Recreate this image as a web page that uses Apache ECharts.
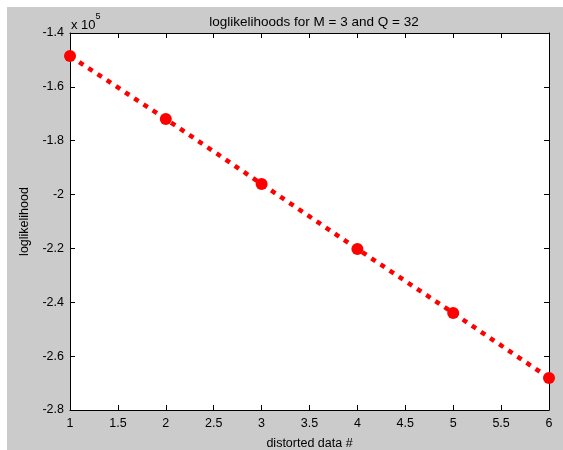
<!DOCTYPE html>
<html lang="en">
<head>
    <meta charset="UTF-8">
    <title>loglikelihoods</title>
    <script src="https://cdn.jsdelivr.net/npm/echarts@6/dist/echarts.min.js"></script>
    <style>
        html, body {margin: 0; padding: 0; background: #ffffff;}
        #frame {position: absolute; left: 7px; top: 7px; width: 556px; height: 443px; background: #cbcbcb;}
        #chart {position: absolute; left: 0; top: 0; width: 563px; height: 450px;}
    </style>
</head>
<body>
<div id="frame"></div>
<div id="chart"></div>
<script>
    // distorted data # vs loglikelihood
    let dataIdx   = [1, 2, 3, 4, 5, 6];
    let logLik    = [-148540, -171930, -196070, -220200, -243970, -268110];
    let titleText = 'loglikelihoods for M = 3 and Q = 32';

    let chart = echarts.init(document.getElementById('chart'));
    let font  = 'Liberation Sans, Arial, sans-serif';

    let fmtY = function (v) {
        return String(parseFloat((v / 1e5).toFixed(1)));
    };

    let option = {
        animation: false,
        title    : [
            {
                text     : titleText,
                left     : 309,
                top      : 10,
                textAlign: 'center',
                textStyle: {fontFamily: font, fontSize: 13.5, fontWeight: 'normal', color: '#000'}
            },
            {
                text     : '{a|x 10}{b|5}',
                left     : 66,
                top      : 7,
                textStyle: {
                    fontWeight: 'normal',
                    rich      : {
                        a: {fontFamily: font, fontSize: 13, fontWeight: 'normal', color: '#000', padding: [7, 0, 0, 0]},
                        b: {fontFamily: font, fontSize: 9, fontWeight: 'normal', color: '#000', verticalAlign: 'top'}
                    }
                }
            }
        ],
        grid     : {
            left: 70, top: 33, right: 14, bottom: 40, outerBoundsMode: 'none',
            show: true, backgroundColor: '#fff', borderWidth: 0
        },
        xAxis    : [
            {
                type         : 'value',
                min          : 1, max: 6, interval: 0.5,
                name         : 'distorted data #',
                nameLocation : 'middle',
                nameGap      : 27,
                nameTextStyle: {fontFamily: font, fontSize: 12.5, color: '#000'},
                axisLine     : {show: true, lineStyle: {color: '#000', width: 1}},
                axisTick     : {inside: true, length: 5, lineStyle: {color: '#000'}},
                axisLabel    : {fontFamily: font, fontSize: 12.5, color: '#000', margin: 7, showMinLabel: true, showMaxLabel: true},
                splitLine    : {show: false}
            },
            {
                type     : 'value',
                position : 'top',
                min      : 1, max: 6, interval: 0.5,
                axisLine : {show: true, lineStyle: {color: '#000', width: 1}},
                axisTick : {inside: true, length: 5, lineStyle: {color: '#000'}},
                axisLabel: {show: false},
                splitLine: {show: false}
            }
        ],
        yAxis    : [
            {
                type         : 'value',
                min          : -280000, max: -140000, interval: 20000,
                name         : 'loglikelihood',
                nameLocation : 'middle',
                nameGap      : 39,
                nameTextStyle: {fontFamily: font, fontSize: 12.5, color: '#000'},
                axisLine     : {show: true, lineStyle: {color: '#000', width: 1}},
                axisTick     : {inside: true, length: 5, lineStyle: {color: '#000'}},
                axisLabel    : {fontFamily: font, fontSize: 12.5, color: '#000', margin: 6, formatter: fmtY},
                splitLine    : {show: false}
            },
            {
                type     : 'value',
                position : 'right',
                min      : -280000, max: -140000, interval: 20000,
                axisLine : {show: true, lineStyle: {color: '#000', width: 1}},
                axisTick : {inside: true, length: 5, lineStyle: {color: '#000'}},
                axisLabel: {show: false},
                splitLine: {show: false}
            }
        ],
        series   : [
            {
                type      : 'line',
                data      : dataIdx.map(function (x, i) { return [x, logLik[i]]; }),
                symbol    : 'circle',
                symbolSize: 12,
                itemStyle : {color: '#ff0000'},
                lineStyle : {color: '#ff0000', width: 4.5, type: [5, 6]},
                clip      : false
            }
        ]
    };
    chart.setOption(option);
</script>
</body>
</html>
